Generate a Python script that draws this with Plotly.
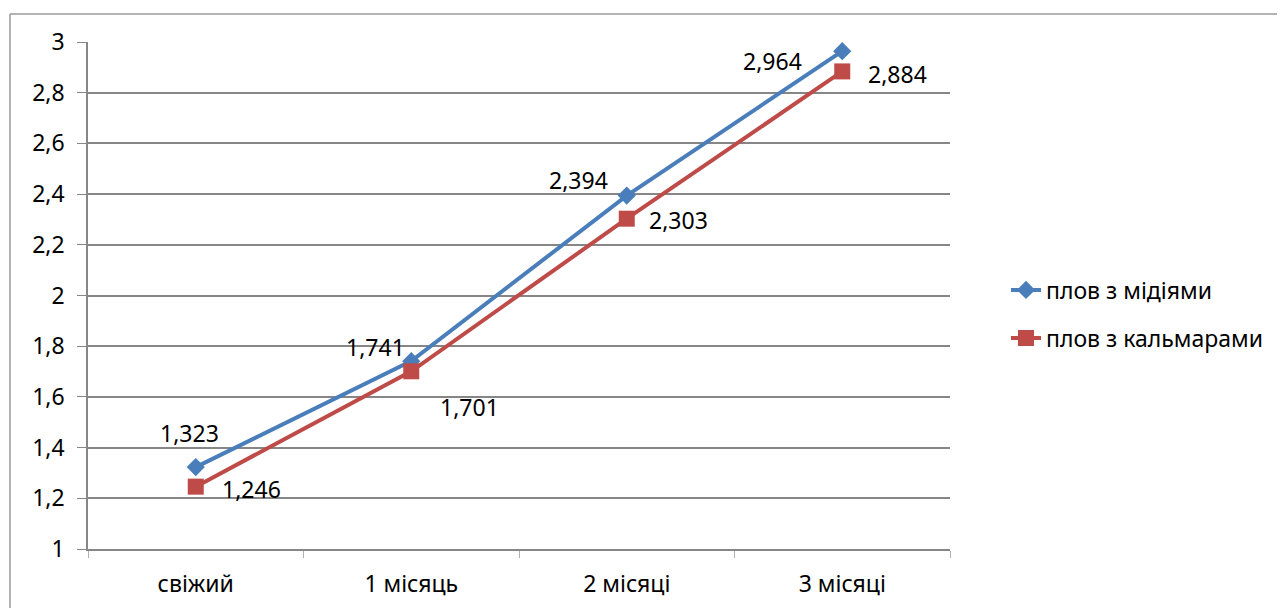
import plotly.graph_objects as go

categories = ["свіжий", "1 місяць", "2 місяці", "3 місяці"]
mussels = [1.323, 1.741, 2.394, 2.964]
squid = [1.246, 1.701, 2.303, 2.884]
series_names = ["плов з мідіями", "плов з кальмарами"]
y_ticks = [1, 1.2, 1.4, 1.6, 1.8, 2, 2.2, 2.4, 2.6, 2.8, 3]

BLUE = "#4A7EBB"
RED = "#BE4B48"
FONT = "Noto Sans"
TXT = "#000000"
FS = 23

def fmt(v):
    return f"{v:.3f}".replace(".", ",")

fig = go.Figure()
fig.add_trace(go.Scatter(
    x=categories, y=mussels, name=series_names[0], mode="lines+markers",
    line=dict(color=BLUE, width=4),
    marker=dict(symbol="diamond", size=14, color=BLUE),
    legend="legend", showlegend=True,
))
fig.add_trace(go.Scatter(
    x=categories, y=squid, name=series_names[1], mode="lines+markers",
    line=dict(color=RED, width=4),
    marker=dict(symbol="square", size=16, color=RED),
    legend="legend2", showlegend=True,
))

# data labels
blue_shift = [(-6, 34), (-36, 14), (-48, 16), (-70, -10)]
red_shift = [(56, -2), (58, -36), (52, -1), (55, -3)]
for i, c in enumerate(categories):
    dx, dy = blue_shift[i]
    fig.add_annotation(x=c, y=mussels[i], text=fmt(mussels[i]), showarrow=False,
                       xshift=dx, yshift=dy, font=dict(family=FONT, size=FS, color=TXT))
    dx, dy = red_shift[i]
    fig.add_annotation(x=c, y=squid[i], text=fmt(squid[i]), showarrow=False,
                       xshift=dx, yshift=dy, font=dict(family=FONT, size=FS, color=TXT))

# page offset (body margin) is 8px; work in screen coordinates
OFF = 8
W, H = 1285, 608
L = 88 - OFF
T = 42 - OFF
R = W - (950 - OFF)
B = H - (549 - OFF)
pw, ph = W - L - R, H - T - B

def px(x):
    return (x - OFF - L) / pw

def py(y):
    return (H - B - (y - OFF)) / ph

shapes = [
    dict(type="line", xref="paper", yref="paper", x0=px(10), x1=px(1300), y0=py(14), y1=py(14),
         line=dict(color="#9a9a9a", width=1.5)),
    dict(type="line", xref="paper", yref="paper", x0=px(10), x1=px(10), y0=py(14), y1=py(620),
         line=dict(color="#9a9a9a", width=1.5)),
]

fig.update_layout(
    width=W, height=H,
    margin=dict(l=L, r=R, t=T, b=B),
    paper_bgcolor="white", plot_bgcolor="white",
    separators=", ",
    showlegend=True,
    font=dict(family=FONT, size=FS, color=TXT),
    shapes=shapes,
    legend=dict(x=px(1006), y=py(290), xanchor="left", yanchor="middle",
                font=dict(family=FONT, size=FS, color=TXT), bgcolor="rgba(0,0,0,0)"),
    legend2=dict(x=px(1006), y=py(338), xanchor="left", yanchor="middle",
                 font=dict(family=FONT, size=FS, color=TXT), bgcolor="rgba(0,0,0,0)"),
    xaxis=dict(
        type="category", showgrid=False, showline=True, linecolor="#868686", linewidth=1.5,
        ticks="outside", tickson="boundaries", ticklen=7, tickcolor="#b0b0b0",
        tickfont=dict(family=FONT, size=FS, color=TXT), ticklabelstandoff=14,
        range=[-0.5, 3.5],
    ),
    yaxis=dict(
        range=[1, 3], tickvals=y_ticks, showgrid=True, gridcolor="#868686", gridwidth=1.5,
        showline=True, linecolor="#868686", linewidth=1.5,
        ticks="outside", ticklen=9, tickcolor="#868686",
        tickfont=dict(family=FONT, size=FS, color=TXT), ticklabelstandoff=8,
        zeroline=False,
    ),
)

fig.write_html("out.html")
